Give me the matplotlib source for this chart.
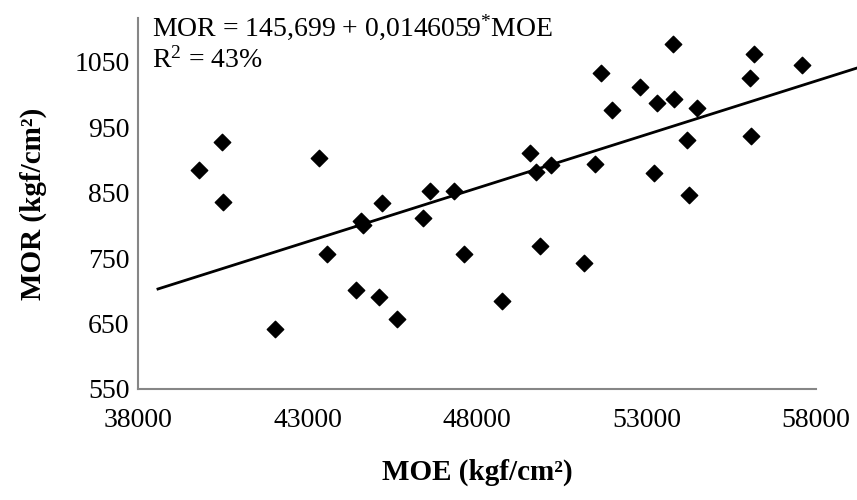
import numpy as np
import matplotlib
matplotlib.use("Agg")
import matplotlib.pyplot as plt

plt.rcParams['font.family'] = ['Liberation Serif', 'DejaVu Serif']
plt.rcParams['mathtext.fontset'] = 'custom'
plt.rcParams['mathtext.rm'] = 'Liberation Serif'
plt.rcParams['mathtext.it'] = 'Liberation Serif:italic'

# dados
moe = [39800, 40490, 40500, 42050, 43340, 43580, 44420, 44570, 44640, 45120,
       45190, 45650, 46420, 46620, 47330, 47630, 48750, 49560, 49730, 49860,
       50200, 51150, 51490, 51650, 51990, 52810, 53210, 53320, 53790, 53800,
       54200, 54260, 54490, 56050, 56100, 56180, 57580]
mor = [884, 927, 836, 641, 903, 756, 702, 806, 801, 690,
       834, 657, 812, 852, 853, 756, 684, 910, 882, 769,
       892, 743, 894, 1033, 977, 1012, 880, 987, 1077, 993,
       930, 846, 979, 1025, 936, 1062, 1045]

# linha de tendência (como aparece no gráfico)
trend_x = [38590, 59200]
trend_intercept = 71.0
trend_slope = 0.016374

xticks = [38000, 43000, 48000, 53000, 58000]
yticks = [550, 650, 750, 850, 950, 1050]

fig = plt.figure(figsize=(8.57, 5.0), dpi=100)
ax = fig.add_axes([0.161, 0.222, 0.791, 0.742])

ax.scatter(moe, mor, marker='D', s=70, color='black', zorder=3)
tx = np.array(trend_x)
ax.plot(tx, trend_intercept + trend_slope * tx, color='black', lw=2, clip_on=False)

ax.set_xlim(38000, 58000)
ax.set_ylim(550, 1117)
ax.set_xticks(xticks)
ax.set_yticks(yticks)
ax.tick_params(length=0, labelsize=20)
ax.tick_params(axis='x', pad=14)
ax.tick_params(axis='y', pad=6)

for s in ['top', 'right']:
    ax.spines[s].set_visible(False)
for s in ['left', 'bottom']:
    ax.spines[s].set_color('#868686')
    ax.spines[s].set_linewidth(1.5)

ax.set_xlabel('MOE (kgf/cm²)', fontsize=21, fontweight='bold', labelpad=18)
ax.set_ylabel('MOR (kgf/cm²)', fontsize=21, fontweight='bold', labelpad=20)

fig.text(152 / 857, 1 - 27 / 500, r'MOR = 145,699 + 0,0146059$^{*}$MOE',
         fontsize=20, va='center', ha='left')
fig.text(152 / 857, 1 - 60 / 500, r'R$^{2}$ = 43%',
         fontsize=20, va='center', ha='left')

fig.savefig('out.png', dpi=100)
